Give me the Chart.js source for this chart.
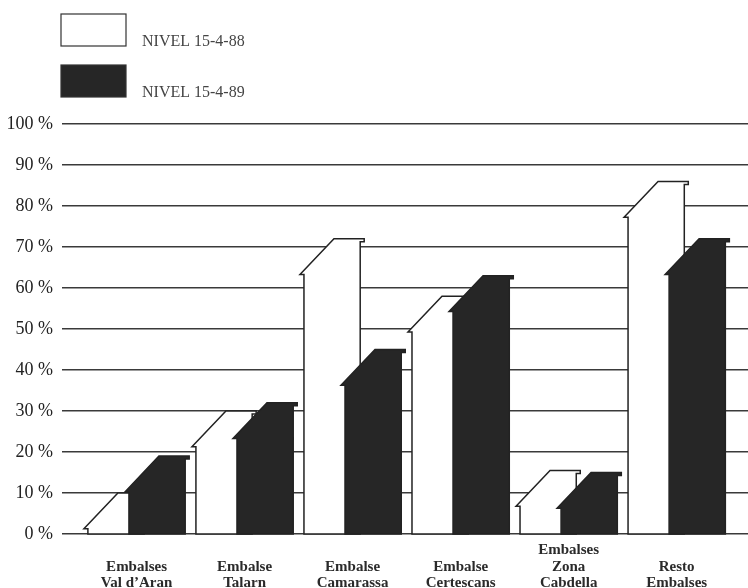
<!DOCTYPE html>
<html>
<head>
<meta charset="utf-8">
<script src="https://cdn.jsdelivr.net/npm/chart.js@4.4.0/dist/chart.umd.min.js"></script>
<style>
  html, body { margin: 0; padding: 0; background: #fff; }
  #wrap { width: 748px; height: 588px; }
</style>
</head>
<body>
<div id="wrap"><canvas id="grafico"></canvas></div>
<script>
// etiquetas (la linea vacia alinea las de dos lineas por abajo)
const categorias = [
  ["", "Embalses", "Val d’Aran"],
  ["", "Embalse", "Talarn"],
  ["", "Embalse", "Camarassa"],
  ["", "Embalse", "Certescans"],
  ["Embalses", "Zona", "Cabdella"],
  ["", "Resto", "Embalses"]
];
const series = ["NIVEL 15-4-88", "NIVEL 15-4-89"];
const nivel88 = [2, 22, 64, 50, 7.5, 78];
const nivel89 = [11, 24, 37, 55, 7, 64];
const ticksY = [0, 10, 20, 30, 40, 50, 60, 70, 80, 90, 100];

const colores = ["#ffffff", "#262626"];
const PROF = 8;   // altura del tejadillo 3D (en %)
const DX = 30;    // desplazamiento horizontal del tejadillo
const SERIF = "'Liberation Serif', 'DejaVu Serif', serif";

// dibuja las barras con su tejadillo
const barras3d = {
    id: "barras3d",
    afterDatasetsDraw(chart) {
        const ctx = chart.ctx;
        const ys = chart.scales.y;
        const base = ys.getPixelForValue(0);
        chart.data.datasets.forEach((ds, d) => {
            const meta = chart.getDatasetMeta(d);
            meta.data.forEach((bar, i) => {
                const p = bar.getProps(["x", "y", "width"], true);
                const v = ds.data[i].y;
                const L = p.x - p.width / 2;
                const R = p.x + p.width / 2;
                const yF = p.y;
                const yB = ys.getPixelForValue(v + PROF);
                ctx.save();
                ctx.beginPath();
                ctx.moveTo(L, base);
                ctx.lineTo(L, yF + 3);
                ctx.lineTo(L - 4, yF + 3);
                ctx.lineTo(L + DX, yB);
                ctx.lineTo(R + 4, yB);
                ctx.lineTo(R + 4, yB + 3);
                ctx.lineTo(R, yB + 3);
                ctx.lineTo(R, base);
                ctx.closePath();
                ctx.fillStyle = colores[d];
                ctx.fill();
                ctx.lineWidth = 1.5;
                ctx.lineJoin = "miter";
                ctx.strokeStyle = "#222";
                ctx.stroke();
                ctx.restore();
            });
        });
    }
};

// leyenda en dos filas, como en el original
const leyenda = {
    id: "leyenda",
    afterDraw(chart) {
        const ctx = chart.ctx;
        chart.data.datasets.forEach((ds, d) => {
            const top = 14 + d * 51;
            ctx.save();
            ctx.fillStyle = colores[d];
            ctx.fillRect(61, top, 65, 32);
            ctx.lineWidth = 1.2;
            ctx.strokeStyle = "#333";
            ctx.strokeRect(61, top, 65, 32);
            ctx.fillStyle = "#444";
            ctx.font = "16px " + SERIF;
            ctx.textBaseline = "middle";
            ctx.fillText(ds.label, 142, top + 28);
            ctx.restore();
        });
    }
};

const ctx = document.getElementById("grafico");

new Chart(ctx, {
    type: "bar",
    data: {
        datasets: [
            {
                label: series[0],
                data: nivel88.map((v, i) => ({ x: i, y: v })),
                backgroundColor: "rgba(0,0,0,0)",
                borderWidth: 0
            },
            {
                label: series[1],
                data: nivel89.map((v, i) => ({ x: i, y: v })),
                backgroundColor: "rgba(0,0,0,0)",
                borderWidth: 0
            }
        ]
    },
    options: {
        responsive: true,
        maintainAspectRatio: false,
        animation: false,
        events: [],
        categoryPercentage: 0.76,
        barPercentage: 1.37,
        layout: { padding: { top: 124, left: 0, right: 0, bottom: 0 } },
        plugins: {
            legend: { display: false },
            tooltip: { enabled: false }
        },
        scales: {
            x: {
                type: "linear",
                offset: false,
                min: -0.69,
                max: 5.66,
                grid: { display: false, drawTicks: false, offset: false },
                border: { display: false },
                afterFit: scale => { scale.height = 54; },
                ticks: {
                    stepSize: 1,
                    includeBounds: false,
                    autoSkip: false,
                    maxRotation: 0,
                    padding: 8,
                    color: "#2a2a2a",
                    font: { family: SERIF, size: 15, weight: "bold", lineHeight: 1.1 },
                    callback: value => categorias[value] ?? ""
                }
            },
            y: {
                min: 0,
                max: 100,
                afterFit: scale => { scale.width = 62; },
                afterBuildTicks: scale => { scale.ticks = ticksY.map(v => ({ value: v })); },
                grid: { color: "#3a3a3a", lineWidth: 1.4, drawTicks: false },
                border: { display: false },
                ticks: {
                    padding: 9,
                    color: "#222",
                    font: { family: SERIF, size: 18 },
                    callback: value => value + " %"
                }
            }
        }
    },
    plugins: [barras3d, leyenda]
});
</script>
</body>
</html>
